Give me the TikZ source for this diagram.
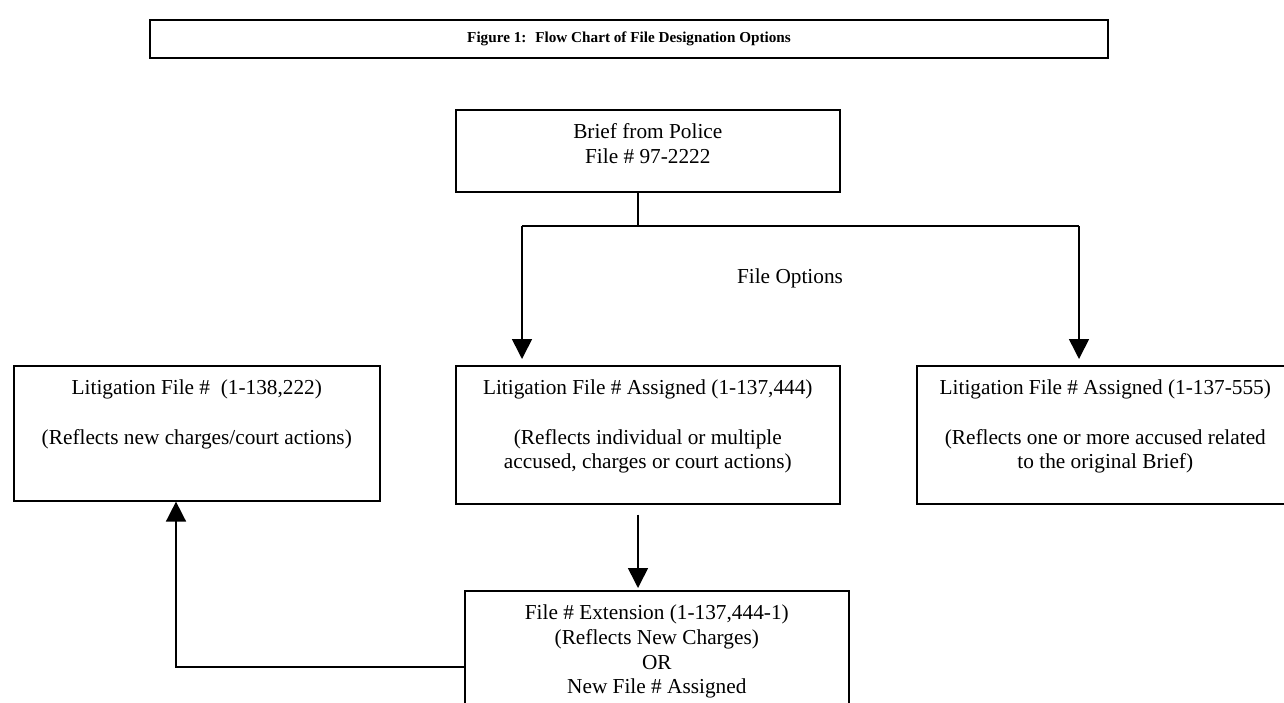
\documentclass[tikz,border=0pt]{standalone}
\usepackage{fontspec}
\setmainfont{Liberation Serif}
\usetikzlibrary{arrows.meta, positioning}

% box body: width, height, lines (text set from the top)
\newcommand{\boxbody}[3]{\parbox[c][#2][t]{#1}{\centering\rule{0pt}{14.5pt}#3}}

\tikzset{
  line/.style={draw=black, line width=0.8pt},
  arrow/.style={draw=black, line width=0.8pt, -{Triangle[width=10pt, length=10pt]}},
  filebox/.style={draw=black, line width=0.8pt, rectangle, inner sep=0pt, anchor=north west, font=\fontsize{10.65}{12.35}\selectfont},
  titlebox/.style={draw=black, line width=0.8pt, rectangle, inner sep=0pt, font=\fontsize{7.6}{9}\selectfont\bfseries},
  lbl/.style={inner sep=0pt, font=\fontsize{10.65}{12.35}\selectfont}
}

\begin{document}
\begin{tikzpicture}[x=0.5pt, y=-0.5pt]
  \useasboundingbox (0,0) rectangle (1284,702);
  \clip (0,0) rectangle (1284,702);

  \node [titlebox, minimum width=479pt, minimum height=19pt] (title) at (629,39) {Figure 1:~ Flow Chart of File Designation Options};

  \node [filebox] (brief) at (455,109) {\boxbody{192pt}{41pt}{Brief from Police\\File \# 97-2222}};
  \node [lbl] (opts) at (790,278) {File Options};

  \node [filebox] (lit1) at (13,365) {\boxbody{183pt}{67.5pt}{Litigation File \#~ (1-138,222)\\[\baselineskip](Reflects new charges/court actions)}};
  \node [filebox] (lit2) at (455,365) {\boxbody{192pt}{69pt}{Litigation File \# Assigned (1-137,444)\\[\baselineskip](Reflects individual or multiple\\accused, charges or court actions)}};
  \node [filebox] (lit3) at (916,365) {\boxbody{188.5pt}{69pt}{Litigation File \# Assigned (1-137-555)\\[\baselineskip](Reflects one or more accused related\\to the original Brief)}};
  \node [filebox] (ext) at (464,590) {\boxbody{192pt}{70pt}{File \# Extension (1-137,444-1)\\(Reflects New Charges)\\OR\\New File \# Assigned}};

  \coordinate (split) at (638,226);
  \coordinate (jl) at (522,226);
  \coordinate (jr) at (1079,226);
  \coordinate (bend) at (176,667);

  \draw [line] (split |- brief.south) -- (split);
  \draw [line] (jl) -- (jr);
  \draw [arrow, shorten >=3pt] (jl) -- (jl |- lit2.north);
  \draw [arrow, shorten >=3pt] (jr) -- (jr |- lit3.north);
  \draw [arrow, shorten >=1pt] ([yshift=-5pt]split |- lit2.south) -- (split |- ext.north);
  \draw [arrow] (bend -| ext.west) -- (bend) -- (bend |- lit1.south);
\end{tikzpicture}
\end{document}
